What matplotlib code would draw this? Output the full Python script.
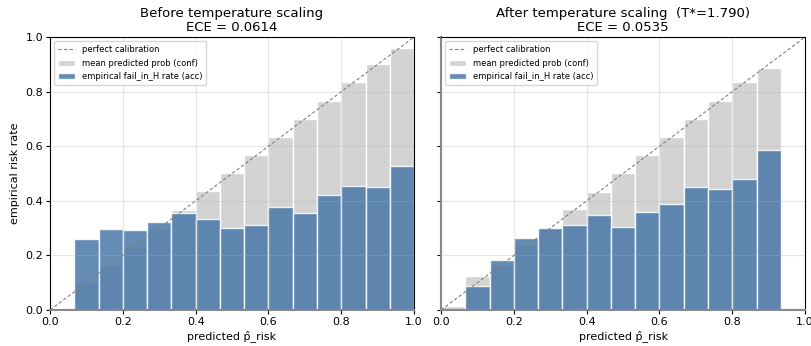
import numpy as np
import matplotlib
matplotlib.use("Agg")
import matplotlib.pyplot as plt

# ── Data (15 equal-width bins on [0, 1]) ─────────────────────────────────────
N_BINS = 15

conf_before = [0.005, 0.102, 0.165, 0.233, 0.300, 0.366, 0.435, 0.501,
               0.567, 0.633, 0.700, 0.767, 0.835, 0.903, 0.961]
acc_before = [0.0, 0.259, 0.297, 0.293, 0.321, 0.354, 0.335, 0.299,
              0.312, 0.378, 0.355, 0.420, 0.454, 0.449, 0.529]

conf_after = [0.015, 0.124, 0.170, 0.239, 0.300, 0.370, 0.433, 0.501,
              0.568, 0.635, 0.700, 0.766, 0.836, 0.886, 0.0]
acc_after = [0.0, 0.089, 0.184, 0.262, 0.299, 0.310, 0.348, 0.304,
             0.359, 0.389, 0.449, 0.443, 0.481, 0.585, 0.0]

titles = [
    "Before temperature scaling\nECE = 0.0614",
    "After temperature scaling  (T*=1.790)\nECE = 0.0535",
]

GRAY = "#d3d3d3"
BLUE = "#4a78a8"


def reliability(ax, conf, acc, title):
    edges = np.linspace(0, 1, N_BINS + 1)
    width = edges[1] - edges[0]
    ax.bar(edges[:-1], conf, width=width, align="edge", color=GRAY,
           edgecolor="white", linewidth=1.0, label="mean predicted prob (conf)")
    ax.bar(edges[:-1], acc, width=width, align="edge", color=BLUE, alpha=0.85,
           edgecolor="white", linewidth=1.0, label="empirical fail_in_H rate (acc)")
    ax.plot([0, 1], [0, 1], "--", color="gray", linewidth=0.8,
            dashes=(3, 2), label="perfect calibration", zorder=4)
    ax.set_xlim(0, 1)
    ax.set_ylim(0, 1)
    ax.grid(True, alpha=0.3)
    ax.set_title(title, fontsize=9.5, linespacing=1.1, pad=4)
    ax.set_xlabel("predicted p\u0302_risk", fontsize=8, labelpad=2)
    ax.tick_params(labelsize=8, length=3, pad=2)
    ax.legend(loc="upper left", fontsize=6, framealpha=0.8, borderpad=0.5,
              labelspacing=0.5, handlelength=2.0)


fig, axes = plt.subplots(1, 2, figsize=(8.12, 3.46), dpi=100, sharey=True)
fig.subplots_adjust(left=0.0616, right=0.9915, bottom=0.104, top=0.893, wspace=0.074)

reliability(axes[0], conf_before, acc_before, titles[0])
reliability(axes[1], conf_after, acc_after, titles[1])
axes[0].set_ylabel("empirical risk rate", fontsize=8, labelpad=4)

for ax in axes:
    ax.spines["bottom"].set_color("#888888")
    ax.spines["bottom"].set_linewidth(1.5)
axes[1].spines["left"].set_color("#888888")
axes[1].spines["left"].set_linewidth(1.5)

fig.savefig("out.png", dpi=100, facecolor="white")
